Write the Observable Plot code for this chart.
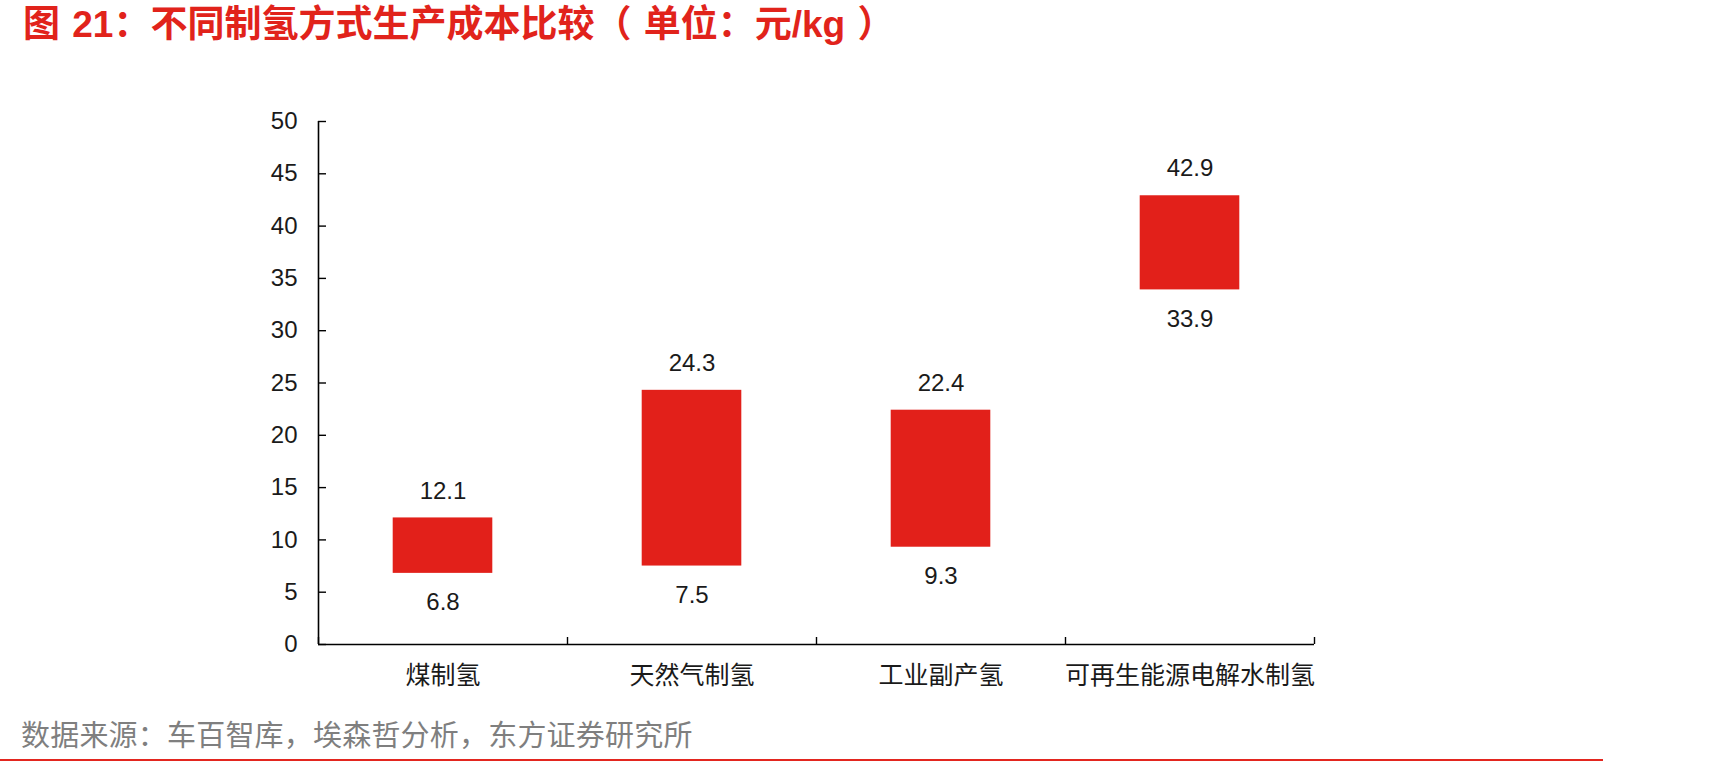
<!DOCTYPE html>
<html>
<head>
<meta charset="utf-8">
<script src="https://cdn.jsdelivr.net/npm/d3@7"></script>
<script src="https://cdn.jsdelivr.net/npm/@observablehq/plot@0.6"></script>
<style>
  html, body { margin: 0; padding: 0; background: #fff; }
  #wrap { position: relative; width: 1736px; height: 766px; overflow: hidden; font-family: "Liberation Sans", "Noto Sans CJK SC", sans-serif; }
  #title { position: absolute; left: 23px; top: 3px; font-size: 37px; line-height: 44px; font-weight: 700; color: #e1231b; white-space: nowrap; word-spacing: 2px; }
  #chart { position: absolute; left: 0; top: 0; }
  #caption { position: absolute; left: 21px; top: 718px; font-size: 29px; line-height: 36px; color: #7f7f7f; white-space: nowrap; letter-spacing: 0.2px; }
  #rule { position: absolute; left: 0; top: 759px; width: 1603px; height: 2px; background: #e3261f; }
</style>
</head>
<body>
<div id="wrap">
  <div id="chart"></div>
  <div id="title">图 21：不同制氢方式生产成本比较（ 单位：元/kg ）</div>
  <div id="caption">数据来源：车百智库，埃森哲分析，东方证券研究所</div>
  <div id="rule"></div>
</div>
<script>
const categories = ["煤制氢", "天然气制氢", "工业副产氢", "可再生能源电解水制氢"];
const lowValues = [6.8, 7.5, 9.3, 33.9];
const highValues = [12.1, 24.3, 22.4, 42.9];
const yTicks = [0, 5, 10, 15, 20, 25, 30, 35, 40, 45, 50];
const xBoundaryTicks = [0, 1, 2, 3, 4];
const xLabelTicks = [0.5, 1.5, 2.5, 3.5];

const table = categories.map((name, i) => ({ name, i, low: lowValues[i], high: highValues[i] }));

const textColor = "#1a1a1a";
const barColor = "#e2201a";

const chart = Plot.plot({
  width: 1736,
  height: 766,
  marginLeft: 318,
  marginRight: 422,
  marginTop: 121,
  marginBottom: 122,
  style: { fontFamily: '"Liberation Sans", "Noto Sans CJK SC", sans-serif', fontSize: "24px", color: textColor, background: "transparent" },
  x: { type: "linear", domain: [0, 4], label: null },
  y: { domain: [0, 50], label: null },
  marks: [
    Plot.rectY(table, { x1: d => d.i + 0.3, x2: d => d.i + 0.7, y1: "low", y2: "high", fill: barColor }),
    Plot.ruleX([0], { stroke: "#000", strokeWidth: 1.6 }),
    Plot.ruleY([0], { stroke: "#000", strokeWidth: 1.6 }),
    Plot.axisY({ ticks: yTicks, tickSize: 0, tickPadding: 21, tickFormat: d => String(d), fill: textColor, label: null }),
    Plot.axisY({ ticks: yTicks, tickSize: 8, dx: 8, fill: "none", stroke: "#000", strokeWidth: 1.4, label: null }),
    Plot.axisX({ ticks: xBoundaryTicks, tickSize: 7, dy: -7, fill: "none", stroke: "#000", strokeWidth: 1.4, label: null }),
    Plot.axisX({ ticks: xLabelTicks, tickSize: 0, tickPadding: 22, tickFormat: v => categories[Math.floor(v)], fill: textColor, fontSize: 25, label: null }),
    Plot.text(table, { x: d => d.i + 0.5, y: "high", text: d => d.high.toFixed(1), dy: -27, fill: textColor }),
    Plot.text(table, { x: d => d.i + 0.5, y: "low", text: d => d.low.toFixed(1), dy: 29, fill: textColor })
  ]
});
document.getElementById("chart").appendChild(chart);
</script>
</body>
</html>
